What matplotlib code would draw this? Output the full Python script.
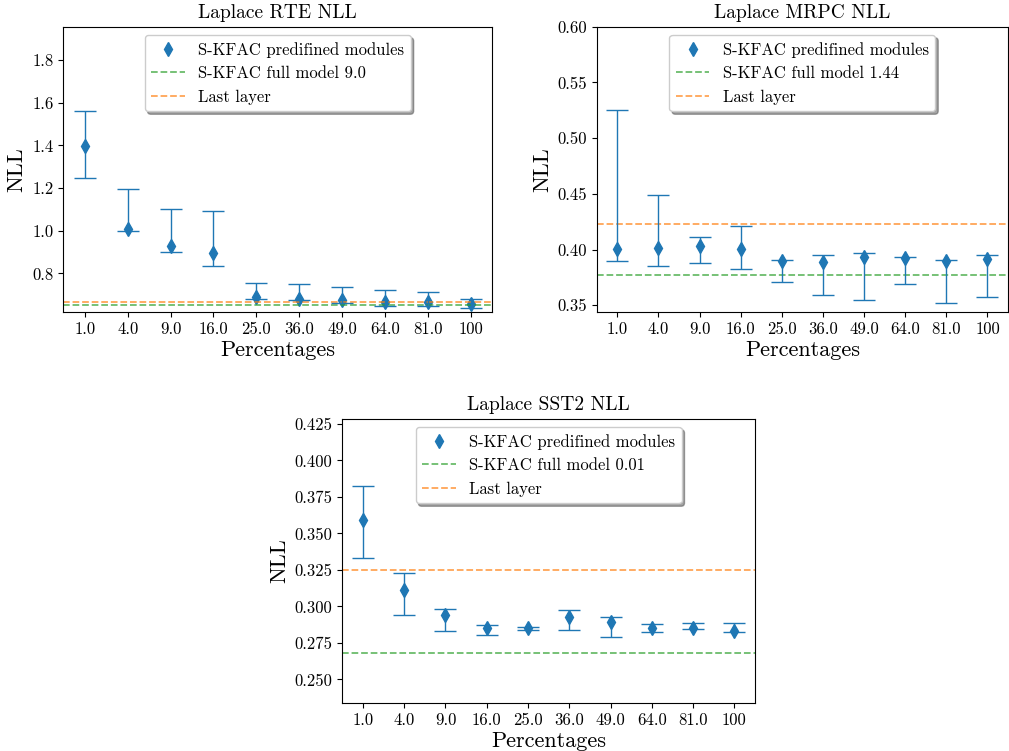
import matplotlib
matplotlib.use("Agg")
import matplotlib.pyplot as plt
import numpy as np

plt.rcParams['font.family'] = 'serif'
plt.rcParams['font.serif'] = ['cmr10']
plt.rcParams['mathtext.fontset'] = 'cm'
plt.rcParams['axes.formatter.use_mathtext'] = True
plt.rcParams['axes.unicode_minus'] = False

categories = ["1.0", "4.0", "9.0", "16.0", "25.0", "36.0", "49.0", "64.0", "81.0", "100"]

# RTE
rte_mean = [1.397, 1.008, 0.930, 0.896, 0.688, 0.681, 0.676, 0.667, 0.668, 0.659]
rte_low = [1.246, 1.000, 0.902, 0.835, 0.679, 0.675, 0.660, 0.648, 0.648, 0.637]
rte_high = [1.563, 1.197, 1.104, 1.094, 0.757, 0.750, 0.738, 0.721, 0.712, 0.680]
rte_full = 0.652
rte_last = 0.668

# MRPC
mrpc_mean = [0.4006, 0.401, 0.4036, 0.4006, 0.3896, 0.389, 0.393, 0.392, 0.390, 0.3916]
mrpc_low = [0.390, 0.385, 0.388, 0.383, 0.3707, 0.359, 0.355, 0.369, 0.352, 0.357]
mrpc_high = [0.525, 0.449, 0.411, 0.421, 0.3905, 0.3955, 0.397, 0.3937, 0.3905, 0.395]
mrpc_full = 0.3775
mrpc_last = 0.4228

# SST2
sst_mean = [0.3594, 0.3115, 0.2943, 0.2849, 0.2849, 0.2930, 0.2895, 0.2854, 0.2849, 0.2831]
sst_low = [0.3334, 0.2938, 0.2829, 0.2801, 0.2836, 0.2836, 0.2788, 0.2824, 0.2842, 0.2826]
sst_high = [0.3828, 0.3232, 0.2981, 0.2874, 0.2856, 0.2976, 0.2929, 0.2881, 0.2888, 0.2885]
sst_full = 0.2682
sst_last = 0.325

fig = plt.figure(figsize=(10.09, 7.51), dpi=100)
W, H = 1009, 751

def ax_at(l, t, r, b):
    return fig.add_axes([l / W, 1 - b / H, (r - l) / W, (b - t) / H])

ax1 = ax_at(63.3, 26.7, 492.3, 312.3)
ax2 = ax_at(596.7, 26.7, 1008, 312.3)
ax3 = ax_at(342.3, 418.7, 755, 703.3)

specs = [
    (ax1, "Laplace RTE NLL", rte_mean, rte_low, rte_high, rte_full, rte_last, "9.0", (0.618, 1.956), np.arange(0.8, 1.81, 0.2), "%.1f"),
    (ax2, "Laplace MRPC NLL", mrpc_mean, mrpc_low, mrpc_high, mrpc_full, mrpc_last, "1.44", (0.3437, 0.60), np.arange(0.35, 0.601, 0.05), "%.2f"),
    (ax3, "Laplace SST2 NLL", sst_mean, sst_low, sst_high, sst_full, sst_last, "0.01", (0.2336, 0.4286), np.arange(0.25, 0.426, 0.025), "%.3f"),
]

for ax, title, mean, low, high, full, last, lab, ylim, yt, fmt in specs:
    x = np.arange(len(categories))
    mean = np.array(mean)
    yerr = np.vstack([mean - np.array(low), np.array(high) - mean])
    ax.plot(x, mean, 'd', color='tab:blue', markersize=7,
            label="S-KFAC predifined modules")
    ax.axhline(full, color='tab:green', alpha=0.7, linestyle='--', linewidth=1.3,
               label="S-KFAC full model " + lab)
    ax.axhline(last, color='tab:orange', alpha=0.7, linestyle='--', linewidth=1.3,
               label="Last layer")
    ax.errorbar(x, mean, yerr=yerr, fmt='none', ecolor='tab:blue',
                capsize=8, elinewidth=1.0, capthick=1.0)
    ax.set_xlim(-0.5, 9.5)
    ax.set_ylim(*ylim)
    ax.set_yticks(yt)
    ax.set_yticklabels([fmt % v for v in yt])
    ax.set_xticks(x)
    ax.set_xticklabels(categories)
    ax.tick_params(labelsize=12)
    ax.set_title(title, fontsize=14)
    ax.set_xlabel("Percentages", fontsize=16, labelpad=2)
    ax.set_ylabel("NLL", fontsize=16)
    ax.legend(loc='upper center', fontsize=12, shadow=True, framealpha=1)

fig.savefig("out.png", dpi=100)
